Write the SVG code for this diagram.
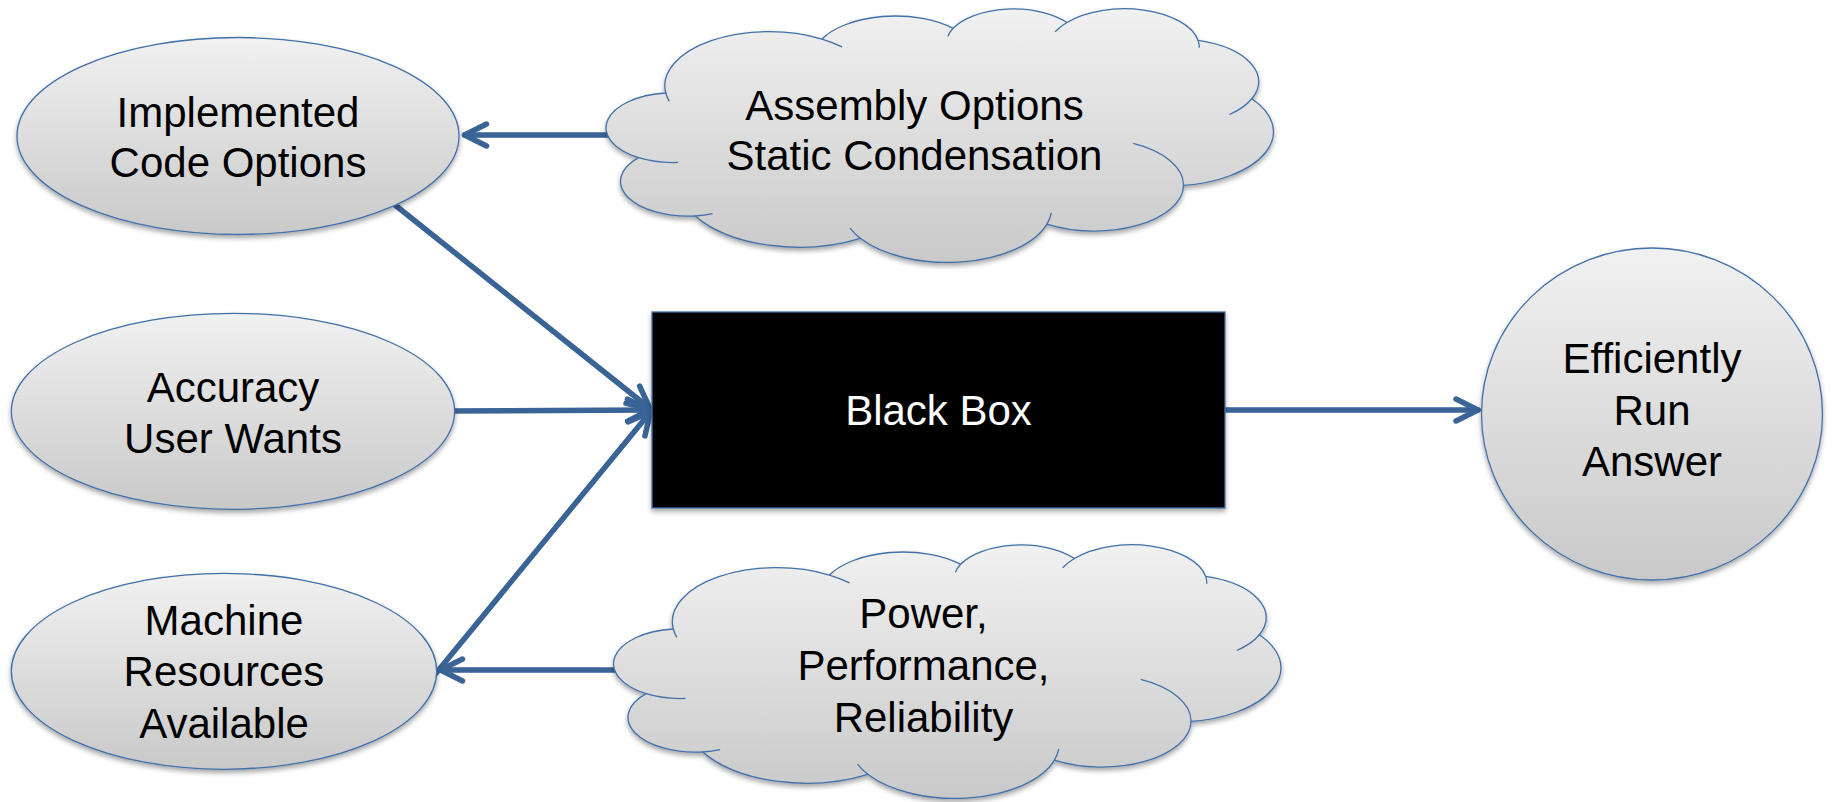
<svg xmlns="http://www.w3.org/2000/svg" width="1832" height="802" viewBox="0 0 1832 802">
  <style>
    .node-fill { fill: url(#shade); stroke: #4270A8; stroke-width: 1.3; }
    .box-fill { fill: #000; stroke: #4270A8; stroke-width: 1.3; }
    .seam { fill: none; stroke: #4270A8; stroke-width: 1.3; }
    .label { font-family: "Liberation Sans", Arial, sans-serif; font-size: 42px; text-anchor: middle; fill: #000; }
    .label-light { fill: #fff; }
    .conn { fill: none; stroke: #3A6396; stroke-width: 5.5; stroke-linecap: round; marker-end: url(#head); }
  </style>
  <defs>
    <linearGradient id="shade" x1="0" y1="0" x2="0" y2="1">
      <stop offset="0" stop-color="#F1F1F1"/>
      <stop offset="1" stop-color="#C9C9C9"/>
    </linearGradient>
    <filter id="shadow" x="-5%" y="-5%" width="110%" height="125%">
      <feDropShadow dx="0" dy="3" stdDeviation="2.5" flood-color="#000" flood-opacity="0.35"/>
    </filter>
    <marker id="head" markerUnits="userSpaceOnUse" viewBox="-28 -16 34 32" markerWidth="34" markerHeight="32" refX="0" refY="0" orient="auto">
      <path d="M -22 -11 L 0 0 L -22 11" fill="none" stroke="#3A6396" stroke-width="5.5" stroke-linecap="round" stroke-linejoin="round"/>
    </marker>
    <!-- cloud outline in a 43200 x 43200 frame -->
    <path id="cloud-edge" vector-effect="non-scaling-stroke" d="M 3900 14370 A 6753 9190 0 0 1 14000 5192 A 5333 7267 0 0 1 22480 3370 A 4365 5945 0 0 1 29840 2380 A 4857 6595 0 0 1 38324 5426 A 5333 7273 0 0 1 41798 15354 A 6775 9220 0 0 1 37382 30094 A 5785 7867 0 0 1 28547 36682 A 6752 9215 0 0 1 16478 39090 A 7720 10543 0 0 1 5811 35288 A 4360 5918 0 0 1 2140 25373 A 4345 5945 0 0 1 3900 14370 Z"/>
    <!-- inner arcs where the puffs overlap -->
    <path id="cloud-seams" vector-effect="non-scaling-stroke" d="M 4693 26177 A 4345 5945 0 0 1 2140 25373 M 6928 34899 A 4360 5918 0 0 1 5811 35288 M 16478 39090 A 6752 9215 0 0 1 15810 37350 M 28827 34751 A 6752 9215 0 0 1 28547 36682 M 34129 22954 A 5785 7867 0 0 1 37382 30094 M 41798 15354 A 5333 7273 0 0 1 40350 18030 M 38324 5426 A 4857 6595 0 0 1 38400 6690 M 29078 3952 A 4857 6595 0 0 1 29840 2380 M 22141 4720 A 4365 5945 0 0 1 22480 3370 M 14000 5192 A 6753 9190 0 0 1 15300 6540 M 4127 15789 A 6753 9190 0 0 1 3900 14370"/>
  </defs>

  <rect x="0" y="0" width="1832" height="802" fill="#fff"/>

  <g id="connectors">
    <path class="conn" d="M 620 135 L 464.5 135"/>
    <path class="conn" d="M 390 201 L 650 408.5"/>
    <path class="conn" d="M 450 411 L 649.5 410"/>
    <path class="conn" d="M 435 674.5 L 650.4 411.9"/>
    <path class="conn" d="M 630 670 L 440.5 670"/>
    <path class="conn" d="M 1220 410 L 1478 410"/>
  </g>

  <g id="node-implemented-code-options">
    <ellipse class="node-fill" filter="url(#shadow)" cx="238" cy="136" rx="221" ry="98.5"/>
    <text class="label"><tspan x="238" y="127">Implemented</tspan><tspan x="238" y="177">Code Options</tspan></text>
  </g>

  <g id="node-accuracy-user-wants">
    <ellipse class="node-fill" filter="url(#shadow)" cx="233" cy="411.3" rx="221.6" ry="98"/>
    <text class="label"><tspan x="233" y="402">Accuracy</tspan><tspan x="233" y="453">User Wants</tspan></text>
  </g>

  <g id="node-machine-resources">
    <ellipse class="node-fill" filter="url(#shadow)" cx="224" cy="671.3" rx="212.7" ry="98"/>
    <text class="label"><tspan x="224" y="635">Machine</tspan><tspan x="224" y="686">Resources</tspan><tspan x="224" y="737.5">Available</tspan></text>
  </g>

  <g id="node-assembly-options">
    <g filter="url(#shadow)">
      <use href="#cloud-edge" class="node-fill" transform="translate(605.5 8.5) scale(0.015463 0.0058796)"/>
    </g>
    <use href="#cloud-seams" class="seam" transform="translate(605.5 8.5) scale(0.015463 0.0058796)"/>
    <text class="label"><tspan x="914.5" y="119.5">Assembly Options</tspan><tspan x="914.5" y="170">Static Condensation</tspan></text>
  </g>

  <g id="node-power-performance">
    <g filter="url(#shadow)">
      <use href="#cloud-edge" class="node-fill" transform="translate(613 544.5) scale(0.015463 0.0058796)"/>
    </g>
    <use href="#cloud-seams" class="seam" transform="translate(613 544.5) scale(0.015463 0.0058796)"/>
    <text class="label"><tspan x="923.5" y="628">Power,</tspan><tspan x="923.5" y="680">Performance,</tspan><tspan x="923.5" y="731.5">Reliability</tspan></text>
  </g>

  <g id="node-black-box">
    <rect class="box-fill" filter="url(#shadow)" x="652" y="312" width="573" height="196"/>
    <text class="label label-light" x="938.5" y="425">Black Box</text>
  </g>

  <g id="node-efficiently-run-answer">
    <ellipse class="node-fill" filter="url(#shadow)" cx="1652" cy="414" rx="170.5" ry="166"/>
    <text class="label"><tspan x="1652" y="373">Efficiently</tspan><tspan x="1652" y="425">Run</tspan><tspan x="1652" y="476">Answer</tspan></text>
  </g>
</svg>
